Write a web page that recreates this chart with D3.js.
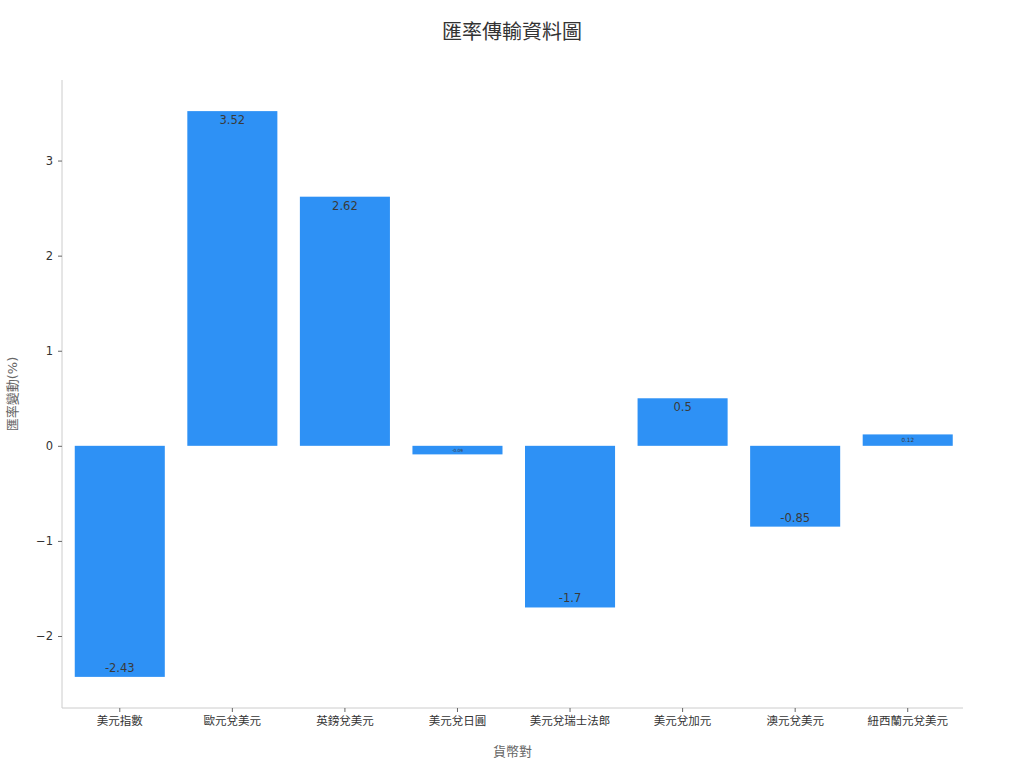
<!DOCTYPE html>
<html>
<head>
<meta charset="utf-8">
<script src="https://cdn.jsdelivr.net/npm/d3@7"></script>
<style>
  body { margin: 0; background: #fff; }
  text { font-family: "DejaVu Sans", "Noto Sans CJK TC", sans-serif; }
</style>
</head>
<body>
<svg id="chart"></svg>
<script>
// data
const pairs = ["美元指數", "歐元兌美元", "英鎊兌美元", "美元兌日圓", "美元兌瑞士法郎", "美元兌加元", "澳元兌美元", "紐西蘭元兌美元"];
const changes = [-2.43, 3.52, 2.62, -0.09, -1.7, 0.5, -0.85, 0.12];
const yTicks = [-2, -1, 0, 1, 2, 3];

const width = 1024;
const height = 768;
const marginTop = 80;
const marginRight = 61;
const marginBottom = 60;
const marginLeft = 62;

const svg = d3.select("#chart")
    .attr("width", width)
    .attr("height", height);

const x = d3.scaleBand()
    .domain(pairs)
    .range([marginLeft + 1.5, width - marginRight + 1])
    .paddingInner(0.2)
    .paddingOuter(0.1);

// a bit of room around the data
const lo = d3.min(changes), hi = d3.max(changes);
const pad = (hi - lo) * 0.055;
const y = d3.scaleLinear()
    .domain([lo - pad, hi + pad])
    .range([height - marginBottom, marginTop]);

// bars
svg.append("g")
  .selectAll("rect")
  .data(changes)
  .join("rect")
    .attr("x", (d, i) => x(pairs[i]))
    .attr("width", x.bandwidth())
    .attr("y", d => y(Math.max(0, d)))
    .attr("height", d => Math.abs(y(d) - y(0)))
    .attr("fill", "#2e91f5");

// value labels, shrink on short bars
svg.append("g")
  .selectAll("text")
  .data(changes)
  .join("text")
    .attr("x", (d, i) => x(pairs[i]) + x.bandwidth() / 2)
    .attr("y", d => {
      const h = Math.abs(y(d) - y(0));
      const off = Math.min(h / 2, 9);
      return d >= 0 ? y(d) + off : y(d) - off;
    })
    .attr("dy", "0.35em")
    .attr("text-anchor", "middle")
    .attr("fill", "#3a3a3a")
    .attr("font-size", d => Math.min(11.5, Math.abs(y(d) - y(0)) * 0.5))
    .text(d => d);

// y axis
const yAxis = svg.append("g")
    .attr("transform", `translate(${marginLeft},0)`)
    .call(d3.axisLeft(y).tickValues(yTicks).tickSize(4).tickPadding(5)
      .tickFormat(d => d < 0 ? "\u2212" + Math.abs(d) : d));
yAxis.select(".domain").attr("stroke", "#ccc").attr("d", `M0,${marginTop}V${height - marginBottom}`);
yAxis.selectAll(".tick line").attr("stroke", "#666");
yAxis.selectAll(".tick text").attr("fill", "#333").attr("font-size", 11.5);

// x axis
const xAxis = svg.append("g")
    .attr("transform", `translate(0,${height - marginBottom})`)
    .call(d3.axisBottom(x).tickSize(4).tickPadding(5));
xAxis.select(".domain").attr("stroke", "#ccc").attr("d", `M${marginLeft},0H${width - marginRight}`);
xAxis.selectAll(".tick line").attr("stroke", "#666");
xAxis.selectAll(".tick text").attr("fill", "#333").attr("font-size", 11.5);

// titles
svg.append("text")
    .attr("x", width / 2)
    .attr("y", 39)
    .attr("text-anchor", "middle")
    .attr("font-size", 20)
    .attr("fill", "#333")
    .text("匯率傳輸資料圖");

svg.append("text")
    .attr("x", (marginLeft + width - marginRight) / 2)
    .attr("y", 756)
    .attr("text-anchor", "middle")
    .attr("font-size", 13)
    .attr("fill", "#666")
    .text("貨幣對");

svg.append("text")
    .attr("transform", `translate(17,${(marginTop + height - marginBottom) / 2}) rotate(-90)`)
    .attr("text-anchor", "middle")
    .attr("font-size", 13)
    .attr("fill", "#666")
    .text("匯率變動(%)");
</script>
</body>
</html>
